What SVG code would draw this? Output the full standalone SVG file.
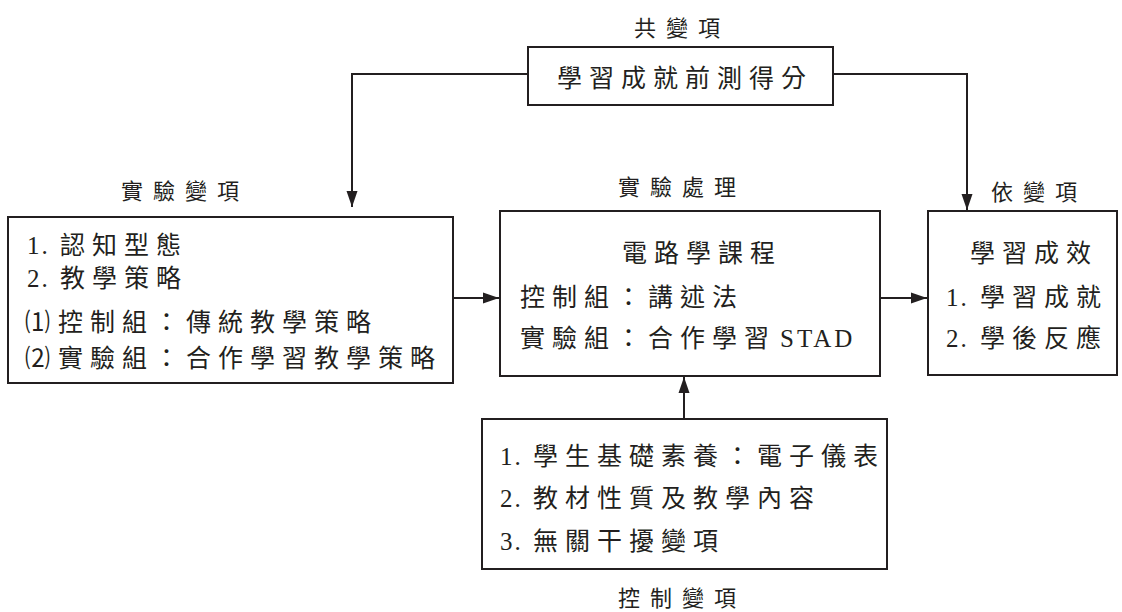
<svg xmlns="http://www.w3.org/2000/svg" width="1122" height="612" viewBox="0 0 1122 612">
<style>
text{font-family:"Liberation Serif","Noto Sans CJK TC",serif;font-size:25px;fill:#231f20;letter-spacing:7px}
.lbl{font-size:22px;letter-spacing:10px}
.n{letter-spacing:2px}
.box{fill:#fff;stroke:#231f20;stroke-width:2}
.ln{fill:none;stroke:#231f20;stroke-width:2}
</style>
<defs>
<marker id="ah" markerWidth="16" markerHeight="12" refX="16" refY="6" orient="auto" markerUnits="userSpaceOnUse">
<path d="M0,0.5 L16,6 L0,11.5 Z" fill="#231f20"/>
</marker>
</defs>
<g id="connectors">
<path class="ln" d="M528,74 H352 V207" marker-end="url(#ah)"/>
<path class="ln" d="M833,74 H967 V210" marker-end="url(#ah)"/>
<path class="ln" d="M453,298 H499" marker-end="url(#ah)"/>
<path class="ln" d="M880,298 H927" marker-end="url(#ah)"/>
<path class="ln" d="M684,419 V377" marker-end="url(#ah)"/>
</g>
<g id="covariate">
<text class="lbl" x="682" y="36" text-anchor="middle">共變項</text>
<rect class="box" x="528" y="47" width="305" height="58"/>
<text x="685" y="87" text-anchor="middle">學習成就前測得分</text>
</g>
<g id="independent">
<text class="lbl" x="185" y="199" text-anchor="middle">實驗變項</text>
<rect class="box" x="8" y="217" width="445" height="166"/>
<text y="254"><tspan class="n" x="27">1.</tspan><tspan x="60">認知型態</tspan></text>
<text y="287"><tspan class="n" x="27">2.</tspan><tspan x="60">教學策略</tspan></text>
<text y="331"><tspan class="n" x="25">⑴</tspan><tspan x="58">控制組：傳統教學策略</tspan></text>
<text y="367"><tspan class="n" x="25">⑵</tspan><tspan x="58">實驗組：合作學習教學策略</tspan></text>
</g>
<g id="treatment">
<text class="lbl" x="682" y="195" text-anchor="middle">實驗處理</text>
<rect class="box" x="500" y="211" width="380" height="165"/>
<text x="702" y="262" text-anchor="middle">電路學課程</text>
<text x="520" y="306">控制組：講述法</text>
<text y="347"><tspan x="520">實驗組：合作學習</tspan><tspan x="780" style="letter-spacing:3px">STAD</tspan></text>
</g>
<g id="dependent">
<text class="lbl" x="1039" y="200" text-anchor="middle">依變項</text>
<rect class="box" x="928" y="211" width="189" height="164"/>
<text x="1034" y="262" text-anchor="middle">學習成效</text>
<text y="306"><tspan class="n" x="946">1.</tspan><tspan x="980">學習成就</tspan></text>
<text y="347"><tspan class="n" x="946">2.</tspan><tspan x="980">學後反應</tspan></text>
</g>
<g id="control">
<rect class="box" x="482" y="419" width="405" height="150"/>
<text y="465"><tspan class="n" x="500">1.</tspan><tspan x="533">學生基礎素養：電子儀表</tspan></text>
<text y="507"><tspan class="n" x="500">2.</tspan><tspan x="533">教材性質及教學內容</tspan></text>
<text y="550"><tspan class="n" x="500">3.</tspan><tspan x="533">無關干擾變項</tspan></text>
<text class="lbl" x="682" y="606" text-anchor="middle">控制變項</text>
</g>
</svg>
